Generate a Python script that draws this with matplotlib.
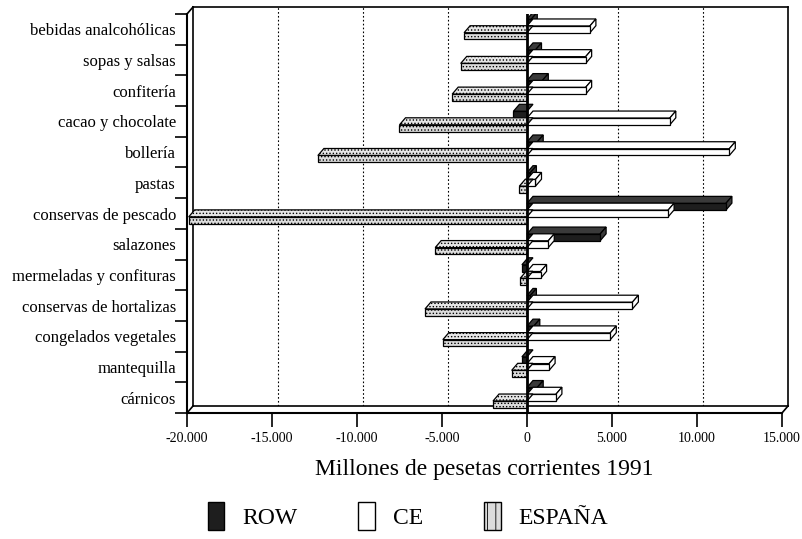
import matplotlib
matplotlib.use('Agg')
import matplotlib.pyplot as plt
from matplotlib.patches import Polygon, Patch
from matplotlib.lines import Line2D
import numpy as np

plt.rcParams['font.family'] = ['Liberation Serif', 'DejaVu Serif']

# datos (millones de pesetas corrientes 1991)
categorias = ['bebidas analcohólicas', 'sopas y salsas', 'confitería', 'cacao y chocolate',
              'bollería', 'pastas', 'conservas de pescado', 'salazones',
              'mermeladas y confituras', 'conservas de hortalizas', 'congelados vegetales',
              'mantequilla', 'cárnicos']
row = [250, 500, 900, -800, 600, 200, 11700, 4300, -300, 200, 400, -300, 600]
ce = [3700, 3450, 3450, 8400, 11900, 500, 8300, 1250, 800, 6200, 4900, 1300, 1700]
espana = [-3700, -3900, -4400, -7500, -12300, -450, -19900, -5400, -400, -6000, -4950, -900, -2000]

xticks = [-20000, -15000, -10000, -5000, 0, 5000, 10000, 15000]
xticklabels = ['-20.000', '-15.000', '-10.000', '-5.000', '0', '5.000', '10.000', '15.000']

W, H = 803, 539
fig = plt.figure(figsize=(W / 100, H / 100), dpi=100)

def rect(l, t, r, b):
    return [l / W, 1 - b / H, (r - l) / W, (b - t) / H]

# pared del fondo (desplazada en profundidad)
DX, DY = 6, 7
front = (187, 14, 782, 413)
back = (front[0] + DX, front[1] - DY, front[2] + DX, front[3] - DY)

axb = fig.add_axes(rect(*back))
axb.set_xlim(-20000, 15000)
axb.set_ylim(0, 1)
axb.set_xticks([-15000, -10000, -5000, 5000, 10000])
axb.tick_params(length=0, labelbottom=False, labelleft=False)
axb.set_yticks([])
axb.grid(axis='x', color='black', linestyle=(0, (1.5, 2)), linewidth=0.8)
for s in axb.spines.values():
    s.set_linewidth(1.2)

ax = fig.add_axes(rect(*front))
ax.patch.set_alpha(0)
n = len(categorias)
ax.set_xlim(-20000, 15000)
ax.set_ylim(-0.5, n - 0.5)
ax.spines['top'].set_visible(False)
ax.spines['right'].set_visible(False)
ax.spines['left'].set_linewidth(1.5)
ax.spines['bottom'].set_linewidth(1.5)
ax.set_xticks(xticks)
ax.set_xticklabels(xticklabels, fontsize=10)
ax.set_yticks(np.arange(n))
ax.set_yticklabels(categorias[::-1], fontsize=12)
ax.set_yticks(np.arange(n + 1) - 0.5, minor=True)
ax.tick_params(axis='y', which='major', length=0, pad=8)
ax.tick_params(axis='y', which='minor', length=9, width=1.2)
ax.tick_params(axis='x', length=10, width=1.2, pad=4, direction='out')

# diagonales de las esquinas
def fig_line(p, q):
    fig.add_artist(Line2D([p[0] / W, q[0] / W], [1 - p[1] / H, 1 - q[1] / H],
                          color='black', linewidth=1.2))
fig_line((front[0], front[1]), (back[0], back[1]))
fig_line((front[0], front[3]), (back[0], back[3]))
fig_line((front[2], front[3]), (back[2], back[3]))

# profundidad de cada barra en unidades de datos
dx = DX * 35000 / (front[2] - front[0])
dy = DY * n / (front[3] - front[1])

series = [
    ('ROW', row, 0.22, '#1e1e1e', '#3a3a3a', None),
    ('CE', ce, 0.0, 'white', 'white', None),
    ('ESPAÑA', espana, -0.22, '#dcdcdc', '#e6e6e6', '.....'),
]
h = 0.22
plt.rcParams['hatch.color'] = '#9a9a9a'
plt.rcParams['hatch.linewidth'] = 0.6

z = 3
for i in range(n):
    y = n - 1 - i
    for name, vals, off, fc, sc, hatch in series:
        v = vals[i]
        y0 = y + off - h / 2
        y1 = y + off + h / 2
        # cara superior
        top = Polygon([(0, y1), (v, y1), (v + dx, y1 + dy), (dx, y1 + dy)], closed=True,
                      facecolor=sc, edgecolor='black', linewidth=0.9, hatch=hatch, zorder=z)
        ax.add_patch(top)
        if v > 0:
            side = Polygon([(v, y0), (v, y1), (v + dx, y1 + dy), (v + dx, y0 + dy)], closed=True,
                           facecolor=sc, edgecolor='black', linewidth=0.9, hatch=hatch, zorder=z)
            ax.add_patch(side)
        ax.barh(y + off, v, height=h, color=fc, edgecolor='black', linewidth=0.9,
                hatch=hatch, zorder=z + 0.5)
        z += 1

ax.axvline(0, color='black', linewidth=2, zorder=z + 1)

fig.text(0.603, 1 - 470 / H, 'Millones de pesetas corrientes 1991', fontsize=17,
         ha='center', va='center')

handles = [Patch(facecolor='#1e1e1e', edgecolor='black', label='ROW'),
           Patch(facecolor='white', edgecolor='black', label='CE'),
           Patch(facecolor='#dcdcdc', edgecolor='black', hatch='||', label='ESPAÑA')]
fig.legend(handles=handles, loc='center', bbox_to_anchor=(0.508, 1 - 516 / H), ncol=3,
           frameon=False, fontsize=17, handlelength=0.7, handleheight=1.4,
           columnspacing=2.6, handletextpad=0.75)

plt.savefig('out.png', dpi=100)
